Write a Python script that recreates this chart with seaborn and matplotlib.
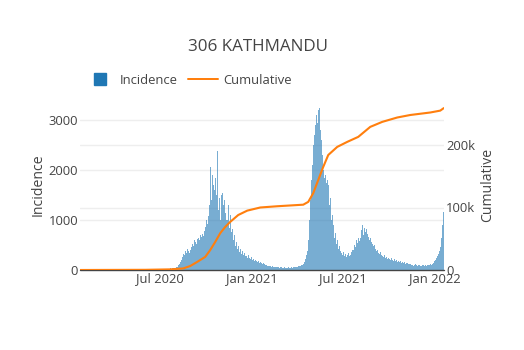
import numpy as np
import pandas as pd
import matplotlib
matplotlib.use("Agg")
import matplotlib.pyplot as plt
import matplotlib.dates as mdates
from matplotlib.lines import Line2D
import seaborn as sns

# ---------------- data ----------------
title = "306 KATHMANDU"
start_date = "2020-01-23"      # first day of the daily series
bin_days = 2                   # each value = daily incidence averaged over 2 days

incidence = (
    # Jan 23 - Mar 22 2020
    [0] * 30
    # Mar 23 - May 21
    + [0, 0, 1, 0, 0, 1, 0, 0, 1, 0, 0, 1, 1, 0, 0, 1, 0, 1, 0, 0,
       1, 1, 0, 1, 2, 1, 0, 2, 1, 3]
    # May 22 - Jul 1
    + [2, 3, 4, 3, 5, 4, 6, 5, 8, 6, 7, 9, 8, 10, 9, 12, 10, 14, 12, 15]
    # Jul - early Aug
    + [18, 15, 22, 20, 25, 19, 28, 24, 30, 26, 35, 30, 40, 38, 45, 50, 60, 70]
    # Aug - Sep
    + [100, 130, 160, 210, 260, 330, 300, 380, 350, 420, 390, 340, 400]
    + [460, 520, 480, 600, 560, 520, 620]
    + [640, 600, 700, 660, 720, 690]
    + [780, 860, 1000, 920, 1080]
    # Oct peak
    + [1300, 2060, 1400, 1900]
    + [1700, 1600, 1850, 1500, 2380]
    + [1200, 1450, 1000, 1500]
    + [1550, 1300, 1400, 1150, 1000]
    # Nov - Dec decline
    + [1000, 1300, 850, 1100, 760]
    + [820, 600, 700, 480, 560]
    + [420, 480, 360, 430, 330, 380, 300, 350, 290]
    + [280, 250, 300, 240, 220, 260, 200, 230, 190, 210, 180]
    + [170, 190, 150, 160, 140, 130, 150, 120, 110, 100]
    # late Jan - Apr 2021
    + [90, 80, 85, 75, 70, 80, 65, 70, 60, 65, 55, 60, 50, 55, 60, 45, 50, 55,
       45, 50, 48, 52, 45, 50, 55, 50, 60, 55, 65, 60, 70, 75, 80, 90, 100, 110]
    # second wave
    + [130, 170, 220, 300, 380]
    + [600, 1000, 1400, 1800]
    + [2100, 2500, 2700]
    + [2900, 3100, 2950, 3200, 3250]
    + [2800, 2600, 2300]
    + [2000, 1850, 1900, 1750, 1800]
    + [1700, 1300, 1450, 1000, 1100]
    + [900, 650, 750, 520, 600, 430, 480]
    + [380, 340, 300, 360, 280, 320, 260, 300, 340, 280, 310, 360, 400]
    # Aug 2021 bump
    + [400, 500, 460, 600, 540, 650, 580]
    + [650, 800, 900, 700, 850, 760, 820]
    + [720, 660, 600, 640, 560, 520, 480, 500]
    + [420, 380, 400, 350, 320, 360, 300]
    + [280, 260, 300, 240, 270, 220, 250, 230, 200, 240, 210, 190, 220, 180,
       200, 170, 190, 160]
    + [180, 150, 170, 140, 160, 130, 150, 140, 120, 130]
    + [120, 100, 110, 90, 100, 120, 95, 85, 100, 110, 90, 80, 95, 105, 90,
       100, 85, 95, 110, 100, 120, 110, 130]
    # Jan 2022 rise
    + [150, 180, 200, 240, 280, 330, 380]
    + [460, 650, 900, 1160]
)

cum_dates = ["2020-01-23", "2020-06-01", "2020-07-21", "2020-08-16",
             "2020-08-30", "2020-09-13", "2020-09-29", "2020-10-09",
             "2020-10-19", "2020-10-29", "2020-11-08", "2020-11-18",
             "2020-12-04", "2020-12-22", "2021-01-17", "2021-02-20",
             "2021-04-13", "2021-04-23", "2021-05-03", "2021-05-13",
             "2021-05-23", "2021-06-02", "2021-06-20", "2021-07-10",
             "2021-08-01", "2021-08-25", "2021-09-18", "2021-10-18",
             "2021-11-13", "2021-12-23", "2022-01-12", "2022-01-19"]
cum_values = [0, 300, 1000, 2500,
              6400, 13000, 21000, 32000,
              45000, 59000, 69000, 77000,
              88000, 95000, 100000, 102000,
              104500, 109000, 123000, 144000,
              165000, 184000, 197000, 205000,
              213000, 229000, 237000, 244000,
              248000, 252000, 255000, 259000]

x_tick_dates = ["2020-07-01", "2021-01-01", "2021-07-01", "2022-01-01"]
x_tick_labels = ["Jul 2020", "Jan 2021", "Jul 2021", "Jan 2022"]
left_ticks = [0, 1000, 2000, 3000]
right_ticks = [0, 100000, 200000]
right_tick_labels = ["0", "100k", "200k"]
series_names = ["Incidence", "Cumulative"]

# ---------------- styling ----------------
sns.set_style("white")
plt.rcParams["font.family"] = ["Open Sans", "DejaVu Sans"]
TXT = "#444444"
GRID = "#eeeeee"
BLUE = "#1f77b4"
ORANGE = "#ff7f0e"
PX = 72 / 100  # points per pixel
TICK_PX = 13

W, H = 524, 350
fig = plt.figure(figsize=(W / 100, H / 100), dpi=100)
L, R, T, B = 80, 444, 100, 270
ax = fig.add_axes([L / W, 1 - B / H, (R - L) / W, (B - T) / H])

start = mdates.date2num(pd.Timestamp(start_date))
n = len(incidence)
centers = start + np.arange(n) * bin_days + 0.5
edges = (start - 0.5 + np.arange(n + 1) * bin_days).tolist()
x_left = start - 0.5
x_right = start - 0.5 + n * bin_days

inc_df = pd.DataFrame({"date": centers, "incidence": incidence})
cum_df = pd.DataFrame({"date": mdates.date2num(pd.to_datetime(cum_dates)),
                       "cumulative": cum_values})

y_top = 3400
y2_top = 272000

# gridlines (both axes) below the bars
for v in left_ticks[1:]:
    ax.axhline(v, color=GRID, lw=1, zorder=0.2)
for v in right_ticks[1:]:
    ax.axhline(v * y_top / y2_top, color=GRID, lw=1, zorder=0.2)

sns.histplot(data=inc_df, x="date", weights="incidence", bins=edges, ax=ax,
             color=BLUE, alpha=0.6, linewidth=0, edgecolor="none", zorder=1)
ax.axhline(0, color=TXT, lw=1, zorder=2, clip_on=False)

ax.set_xlim(x_left, x_right)
ax.set_ylim(0, y_top)
ax.set_yticks(left_ticks)
ax.set_yticklabels([str(v) for v in left_ticks])
ax.set_xticks(mdates.date2num(pd.to_datetime(x_tick_dates)))
ax.set_xticklabels(x_tick_labels)
ax.tick_params(axis="both", length=0, labelsize=TICK_PX * PX, labelcolor=TXT)
ax.tick_params(axis="y", pad=2 * PX)
ax.tick_params(axis="x", pad=1.2)
ax.set_xlabel("")
ax.set_ylabel(series_names[0], fontsize=14 * PX, color=TXT, va="center")
ax.yaxis.set_label_coords((38 - L) / (R - L), 0.5)
for s in ax.spines.values():
    s.set_visible(False)
ax.grid(False)

ax2 = ax.twinx()
sns.lineplot(data=cum_df, x="date", y="cumulative", ax=ax2, color=ORANGE,
             lw=2 * PX * 1.05, zorder=3)
ax2.set_xlim(x_left, x_right)
ax2.set_ylim(0, y2_top)
ax2.set_yticks(right_ticks)
ax2.set_yticklabels(right_tick_labels)
ax2.tick_params(axis="y", length=0, labelsize=TICK_PX * PX, labelcolor=TXT,
                pad=2 * PX)
ax2.set_ylabel(series_names[1], fontsize=14 * PX, color=TXT, va="center")
ax2.yaxis.set_label_coords((488 - L) / (R - L), 0.5)
for s in ax2.spines.values():
    s.set_visible(False)
ax2.grid(False)

# title
fig.text(257.5 / W, 1 - 50.7 / H, title, ha="center", va="baseline",
         fontsize=17 * PX, color=TXT)

# legend
handles = [Line2D([], [], marker="s", ls="none", color=BLUE,
                  markersize=12 * PX),
           Line2D([], [], color=ORANGE, lw=2 * PX)]
fig.legend(handles, series_names, loc="center left",
           bbox_to_anchor=(85 / W, 1 - 80 / H), ncol=2, frameon=False,
           fontsize=TICK_PX * PX, labelcolor=TXT, handlelength=30 / TICK_PX,
           handletextpad=5 / TICK_PX, columnspacing=10 / TICK_PX, borderpad=0,
           borderaxespad=0)

fig.savefig("out.png", dpi=100)
